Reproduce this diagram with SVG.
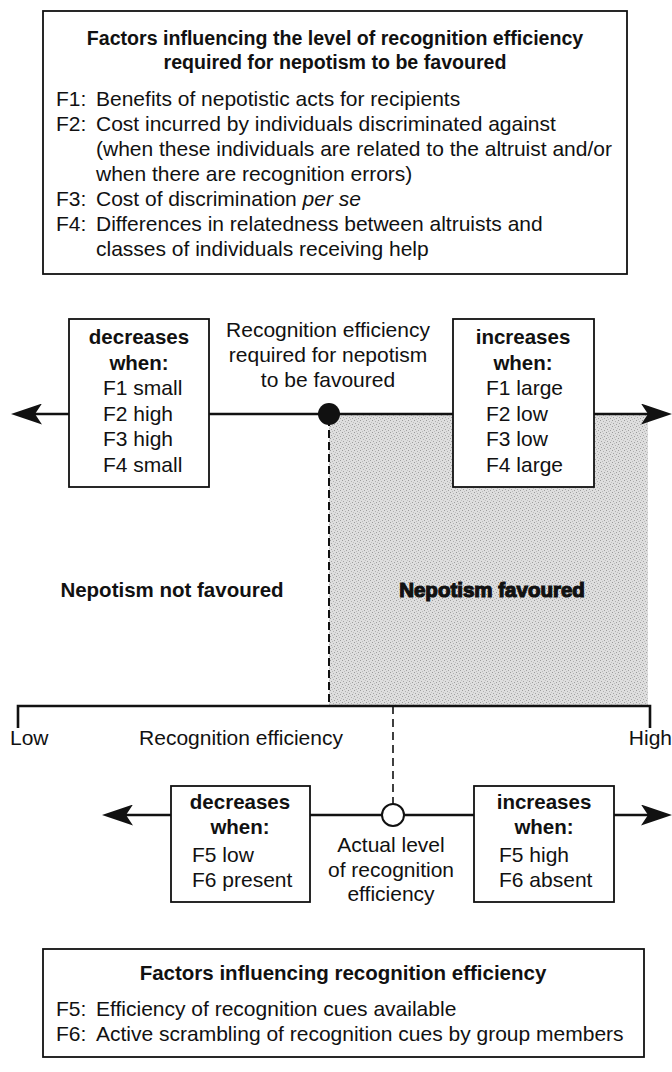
<svg xmlns="http://www.w3.org/2000/svg" width="672" height="1072" viewBox="0 0 672 1072">
<style>
.t{font-family:"Liberation Sans",Arial,Helvetica,sans-serif;font-size:21px;fill:#111}
.b{font-weight:bold;font-size:20.5px}
.h{font-size:19.6px}
.c{text-anchor:middle}
.e{text-anchor:end}
.box{fill:#fff;stroke:#111;stroke-width:1.8}
.ln{fill:none;stroke:#111;stroke-width:2.6}
.dash{fill:none;stroke:#111;stroke-width:2;stroke-dasharray:8 4}
</style>
<defs>
<marker id="ah" markerUnits="userSpaceOnUse" viewBox="0 0 31 21" refX="22" refY="10.5" markerWidth="31" markerHeight="21" orient="auto-start-reverse">
<path d="M0,0 L31,10.5 L0,21 L7,10.5 Z" fill="#111"/>
</marker>
<pattern id="stip" width="6" height="6" patternUnits="userSpaceOnUse">
<rect width="6" height="6" fill="#dedede"/>
<rect x="0" y="0" width="1" height="1" fill="#9a9a9a"/>
<rect x="3" y="1" width="1" height="1" fill="#b0b0b0"/>
<rect x="1" y="3" width="1" height="1" fill="#a5a5a5"/>
<rect x="4" y="4" width="1" height="1" fill="#9f9f9f"/>
<rect x="5" y="2" width="1" height="1" fill="#c0c0c0"/>
<rect x="2" y="5" width="1" height="1" fill="#bcbcbc"/>
</pattern>
</defs>

<rect id="favoured-region" x="329" y="414" width="319" height="292" fill="url(#stip)"/>

<g id="top-factors">
<rect class="box" x="43" y="11" width="584" height="263"/>
<text class="t b h c" x="335" y="45">Factors influencing the level of recognition efficiency</text>
<text class="t b h c" x="335" y="69">required for nepotism to be favoured</text>
<text class="t" x="56" y="106">F1:</text><text class="t" x="96" y="106">Benefits of nepotistic acts for recipients</text>
<text class="t" x="56" y="131">F2:</text><text class="t" x="96" y="131">Cost incurred by individuals discriminated against</text>
<text class="t" x="96" y="156">(when these individuals are related to the altruist and/or</text>
<text class="t" x="96" y="181">when there are recognition errors)</text>
<text class="t" x="56" y="206">F3:</text><text class="t" x="96" y="206">Cost of discrimination <tspan font-style="italic">per se</tspan></text>
<text class="t" x="56" y="231">F4:</text><text class="t" x="96" y="231">Differences in relatedness between altruists and</text>
<text class="t" x="96" y="256">classes of individuals receiving help</text>
</g>

<g id="connectors">
<line class="ln" x1="20" y1="414" x2="70" y2="414" marker-start="url(#ah)"/>
<line class="ln" x1="208" y1="414" x2="454" y2="414"/>
<line class="ln" x1="593" y1="414" x2="663" y2="414" marker-end="url(#ah)"/>
<line class="dash" x1="329" y1="418" x2="329" y2="706"/>
<path class="ln" d="M18,728 V706 H650 V728"/>
<line x1="393" y1="706" x2="393" y2="804" stroke="#111" stroke-width="1.6" stroke-dasharray="8 5"/>
<line class="ln" x1="111" y1="815" x2="172" y2="815" marker-start="url(#ah)"/>
<line class="ln" x1="309" y1="815" x2="475" y2="815"/>
<line class="ln" x1="613" y1="815" x2="663" y2="815" marker-end="url(#ah)"/>
</g>

<g id="required-dot">
<circle cx="329" cy="414" r="11" fill="#111"/>
</g>

<g id="required-label">
<text class="t c" x="328" y="337">Recognition efficiency</text>
<text class="t c" x="328" y="362">required for nepotism</text>
<text class="t c" x="328" y="387">to be favoured</text>
</g>

<g id="decreases-upper">
<rect class="box" x="69" y="319" width="140" height="168"/>
<text class="t b c" x="139" y="344">decreases</text>
<text class="t b c" x="139" y="370">when:</text>
<text class="t" x="103" y="395">F1 small</text>
<text class="t" x="103" y="421">F2 high</text>
<text class="t" x="103" y="446">F3 high</text>
<text class="t" x="103" y="472">F4 small</text>
</g>

<g id="increases-upper">
<rect class="box" x="453" y="319" width="141" height="168"/>
<text class="t b c" x="523" y="344">increases</text>
<text class="t b c" x="523" y="370">when:</text>
<text class="t" x="486" y="395">F1 large</text>
<text class="t" x="486" y="421">F2 low</text>
<text class="t" x="486" y="446">F3 low</text>
<text class="t" x="486" y="472">F4 large</text>
</g>

<g id="region-labels">
<text class="t b c" x="172" y="597">Nepotism not favoured</text>
<text class="t b c" x="492" y="597" stroke="#111" stroke-width="1.2">Nepotism favoured</text>
</g>

<g id="axis-labels">
<text class="t" x="10" y="745">Low</text>
<text class="t c" x="241" y="745">Recognition efficiency</text>
<text class="t e" x="672" y="745">High</text>
</g>

<g id="actual-circle">
<circle cx="393" cy="815" r="11" fill="#fff" stroke="#111" stroke-width="2"/>
</g>

<g id="actual-label">
<text class="t c" x="391" y="852">Actual level</text>
<text class="t c" x="391" y="877">of recognition</text>
<text class="t c" x="391" y="901">efficiency</text>
</g>

<g id="decreases-lower">
<rect class="box" x="171" y="786" width="139" height="116"/>
<text class="t b c" x="240" y="809">decreases</text>
<text class="t b c" x="240" y="834">when:</text>
<text class="t" x="192" y="862">F5 low</text>
<text class="t" x="192" y="887">F6 present</text>
</g>

<g id="increases-lower">
<rect class="box" x="474" y="786" width="140" height="116"/>
<text class="t b c" x="544" y="809">increases</text>
<text class="t b c" x="544" y="834">when:</text>
<text class="t" x="499" y="862">F5 high</text>
<text class="t" x="499" y="887">F6 absent</text>
</g>

<g id="bottom-factors">
<rect class="box" x="43" y="949" width="601" height="108"/>
<text class="t b c" x="343" y="980">Factors influencing recognition efficiency</text>
<text class="t" x="56" y="1016">F5:</text><text class="t" x="96" y="1016">Efficiency of recognition cues available</text>
<text class="t" x="56" y="1041">F6:</text><text class="t" x="96" y="1041">Active scrambling of recognition cues by group members</text>
</g>
</svg>
